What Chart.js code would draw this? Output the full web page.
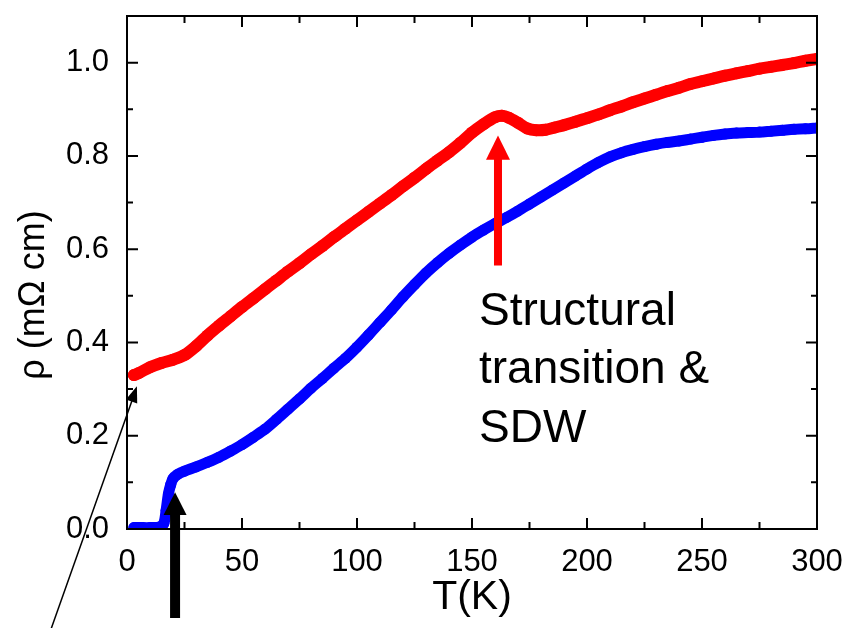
<!DOCTYPE html>
<html>
<head>
<meta charset="utf-8">
<script src="https://cdn.jsdelivr.net/npm/chart.js@4/dist/chart.umd.min.js"></script>
<style>
  body { margin: 0; background: #fff; }
  #wrap { width: 854px; height: 628px; position: relative; }
</style>
</head>
<body>
<div id="wrap"><canvas id="rhoChart"></canvas></div>
<script>
  // resistivity vs temperature, two samples
  const redT = [3, 5, 10, 15, 20, 25, 30, 35, 40, 45, 50, 55, 60, 65, 70, 75, 80, 85, 90, 95,
    100, 105, 110, 115, 120, 125, 130, 135, 140, 145, 150, 155, 160, 163, 166, 170, 174, 178,
    182, 186, 190, 195, 200, 205, 210, 215, 220, 225, 230, 235, 240, 245, 250, 255, 260, 265,
    270, 275, 280, 285, 290, 295, 300];
  const redRho = [0.330, 0.334, 0.347, 0.356, 0.363, 0.373, 0.392, 0.415, 0.436, 0.456, 0.476,
    0.495, 0.514, 0.533, 0.552, 0.570, 0.589, 0.607, 0.626, 0.644, 0.662, 0.680, 0.698, 0.716,
    0.735, 0.753, 0.772, 0.790, 0.808, 0.828, 0.850, 0.868, 0.883, 0.886, 0.882, 0.871, 0.859,
    0.855, 0.856, 0.861, 0.866, 0.873, 0.881, 0.889, 0.898, 0.906, 0.915, 0.923, 0.931, 0.939,
    0.946, 0.954, 0.960, 0.966, 0.972, 0.977, 0.982, 0.987, 0.991, 0.995, 0.999, 1.004, 1.008];

  const blueT = [3, 6, 10, 14, 16, 17, 18, 19, 20, 22, 25, 30, 35, 40, 45, 50, 55, 60, 65, 70,
    75, 80, 85, 90, 95, 100, 105, 110, 115, 120, 125, 130, 135, 140, 145, 150, 155, 160, 165,
    170, 175, 180, 185, 190, 195, 200, 205, 210, 215, 220, 225, 230, 235, 240, 245, 250, 255,
    260, 265, 270, 275, 280, 285, 290, 295, 300];
  const blueRho = [0.003, 0.003, 0.003, 0.004, 0.012, 0.040, 0.075, 0.095, 0.108, 0.117, 0.124,
    0.133, 0.143, 0.154, 0.167, 0.181, 0.197, 0.214, 0.235, 0.257, 0.279, 0.302, 0.323, 0.345,
    0.366, 0.390, 0.416, 0.443, 0.470, 0.498, 0.524, 0.549, 0.571, 0.591, 0.609, 0.626, 0.641,
    0.655, 0.668, 0.682, 0.697, 0.712, 0.727, 0.742, 0.757, 0.772, 0.786, 0.798, 0.807, 0.814,
    0.820, 0.825, 0.829, 0.832, 0.836, 0.840, 0.844, 0.847, 0.849, 0.850, 0.851, 0.853, 0.855,
    0.857, 0.858, 0.860];

  const xTickLabels = [0, 50, 100, 150, 200, 250, 300];
  const yTickLabels = [0, 0.2, 0.4, 0.6, 0.8, 1.0];

  const FONT = "'Liberation Sans', Arial, sans-serif";

  function arrowHead(ctx, tipX, tipY, fromX, fromY, len, half) {
    const ang = Math.atan2(tipY - fromY, tipX - fromX);
    const bx = tipX - len * Math.cos(ang), by = tipY - len * Math.sin(ang);
    ctx.beginPath();
    ctx.moveTo(tipX, tipY);
    ctx.lineTo(bx + half * Math.sin(ang), by - half * Math.cos(ang));
    ctx.lineTo(bx - half * Math.sin(ang), by + half * Math.cos(ang));
    ctx.closePath();
    ctx.fill();
  }

  // box frame with inward ticks on all four sides, plus arrows and notes
  const frameAndNotes = {
    id: 'frameAndNotes',
    afterDatasetsDraw(chart) {
      const { ctx, chartArea: a, scales: { x, y } } = chart;
      ctx.save();
      ctx.strokeStyle = '#000';
      ctx.lineWidth = 2;
      ctx.strokeRect(a.left, a.top, a.right - a.left, a.bottom - a.top);

      ctx.beginPath();
      for (let t = 0; t <= 300; t += 25) {
        const px = x.getPixelForValue(t);
        const len = t % 50 === 0 ? 11 : 7;
        ctx.moveTo(px, a.bottom); ctx.lineTo(px, a.bottom - len);
        ctx.moveTo(px, a.top); ctx.lineTo(px, a.top + len);
      }
      for (let i = 0; i <= 10; i++) {
        const py = y.getPixelForValue(i / 10);
        const len = i % 2 === 0 ? 11 : 6;
        ctx.moveTo(a.left, py); ctx.lineTo(a.left + len, py);
        ctx.moveTo(a.right, py); ctx.lineTo(a.right - len, py);
      }
      ctx.stroke();

      // red arrow at the structural / SDW transition
      const rx = x.getPixelForValue(161.3);
      const rTip = y.getPixelForValue(0.844), rBase = y.getPixelForValue(0.792), rEnd = y.getPixelForValue(0.565);
      ctx.fillStyle = '#ff0000';
      ctx.fillRect(rx - 4, rBase - 1, 8, rEnd - rBase + 1);
      arrowHead(ctx, rx, rTip, rx, rEnd, rBase - rTip, 12);

      // thick black arrow at the superconducting onset
      const bx = x.getPixelForValue(20.9);
      const bTip = y.getPixelForValue(0.079), bBase = y.getPixelForValue(0.030);
      ctx.fillStyle = '#000';
      ctx.fillRect(bx - 5, bBase - 1, 10, 618 - bBase + 1);
      arrowHead(ctx, bx, bTip, bx, 618, bBase - bTip, 11.5);

      // thin arrow pointing at the lowest red point
      const tx = x.getPixelForValue(4.3), ty = y.getPixelForValue(0.306);
      ctx.lineWidth = 1.5;
      ctx.beginPath();
      ctx.moveTo(50, 632);
      ctx.lineTo(tx - 3, ty + 9);
      ctx.stroke();
      arrowHead(ctx, tx, ty, 50, 632, 16, 6);

      ctx.fillStyle = '#000';
      ctx.font = '46px ' + FONT;
      ctx.textAlign = 'left';
      ctx.textBaseline = 'alphabetic';
      ctx.fillText('Structural', 479, 325);
      ctx.fillText('transition &', 479, 383);
      ctx.fillText('SDW', 479, 442);

      // y axis title
      ctx.save();
      ctx.translate(34, 295);
      ctx.rotate(-Math.PI / 2);
      ctx.font = '36px ' + FONT;
      ctx.textAlign = 'center';
      ctx.textBaseline = 'middle';
      ctx.fillText('\u03c1 (m\u03a9 cm)', 0, 0);
      ctx.restore();

      ctx.restore();
    }
  };

  const ctx = document.getElementById('rhoChart').getContext('2d');
  new Chart(ctx, {
    type: 'scatter',
    data: {
      datasets: [
        {
          label: 'red',
          data: redT.map((t, i) => ({ x: t, y: redRho[i] })),
          showLine: true,
          borderColor: '#ff0000',
          backgroundColor: '#ff0000',
          borderWidth: 12,
          borderCapStyle: 'round',
          borderJoinStyle: 'round',
          pointRadius: 6,
          pointBorderWidth: 0,
          tension: 0.3,
          clip: 0
        },
        {
          label: 'blue',
          data: blueT.map((t, i) => ({ x: t, y: blueRho[i] })),
          showLine: true,
          borderColor: '#0000ff',
          backgroundColor: '#0000ff',
          borderWidth: 11,
          borderCapStyle: 'round',
          borderJoinStyle: 'round',
          pointRadius: 5.5,
          pointBorderWidth: 0,
          tension: 0.3,
          clip: 0
        }
      ]
    },
    options: {
      responsive: true,
      maintainAspectRatio: false,
      animation: false,
      layout: { padding: { top: 16, right: 37, left: 0, bottom: 0 } },
      plugins: { legend: { display: false }, tooltip: { enabled: false } },
      scales: {
        x: {
          type: 'linear',
          min: 0,
          max: 300,
          afterBuildTicks: s => { s.ticks = xTickLabels.map(v => ({ value: v })); },
          afterFit: s => { s.height = 99; s.paddingLeft = 0; s.paddingRight = 0; },
          grid: { display: false },
          border: { display: false },
          ticks: { color: '#000', font: { size: 31, family: FONT }, padding: 7, maxRotation: 0 },
          title: {
            display: true,
            text: 'T(K)',
            color: '#000',
            font: { size: 41, family: FONT },
            padding: { top: 0, bottom: 6 }
          }
        },
        y: {
          min: 0,
          max: 1.1,
          afterBuildTicks: s => { s.ticks = yTickLabels.map(v => ({ value: v })); },
          afterFit: s => { s.width = 127; s.paddingTop = 0; s.paddingBottom = 0; },
          grid: { display: false },
          border: { display: false },
          ticks: {
            color: '#000',
            font: { size: 31, family: FONT },
            padding: 10,
            callback: v => v.toFixed(1)
          }
        }
      }
    },
    plugins: [frameAndNotes]
  });
</script>
</body>
</html>
